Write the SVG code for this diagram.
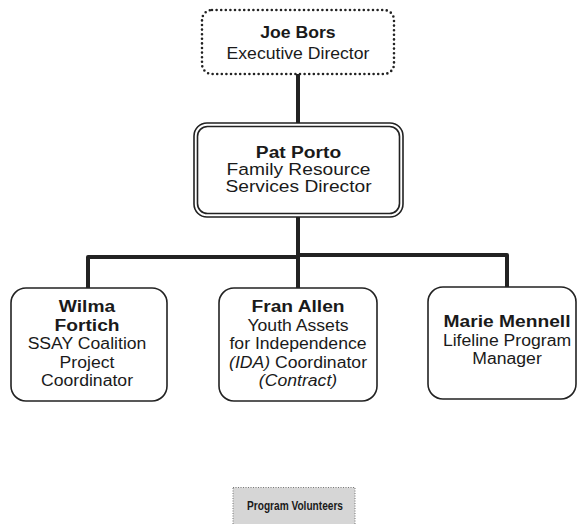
<svg xmlns="http://www.w3.org/2000/svg" width="577" height="524" viewBox="0 0 577 524">
  <style>
    text { font-family: "Liberation Sans", Arial, sans-serif; fill: #1a1a1a; text-anchor: middle; }
    .b { font-weight: bold; }
    .i { font-style: italic; }
    .box { fill: #ffffff; stroke: #222222; stroke-width: 1.6; }
    .wire { fill: none; stroke: #222222; stroke-width: 4; stroke-linejoin: round; }
  </style>
  <rect width="577" height="524" fill="#ffffff"/>

  <!-- reporting lines -->
  <g id="connectors">
    <path class="wire" d="M298 74 V123"/>
    <path class="wire" d="M298 217 V295"/>
    <path class="wire" d="M88 295 V257 H298"/>
    <path class="wire" d="M298 255 H507 V293"/>
  </g>

  <g id="joe-bors">
    <rect x="202" y="10" width="192" height="64" rx="10" fill="#ffffff" stroke="#222222" stroke-width="2.6" stroke-dasharray="0 4.6" stroke-linecap="round"/>
    <g transform="translate(298 0) scale(1.13 1)">
      <text class="b" x="0" y="38" font-size="15.6">Joe Bors</text>
      <text x="0" y="59" font-size="15.6">Executive Director</text>
    </g>
  </g>

  <g id="pat-porto">
    <rect class="box" x="194" y="123" width="209" height="94" rx="13"/>
    <rect class="box" x="197.5" y="126.5" width="202" height="87" rx="10"/>
    <g transform="translate(298.5 0) scale(1.13 1)">
      <text class="b" x="0" y="158" font-size="17">Pat Porto</text>
      <text x="0" y="175" font-size="17">Family Resource</text>
      <text x="0" y="192" font-size="17">Services Director</text>
    </g>
  </g>

  <g id="wilma-fortich">
    <rect class="box" x="11" y="288" width="156" height="113" rx="15"/>
    <g transform="translate(87 0) scale(1.13 1)">
      <text class="b" x="0" y="312" font-size="17">Wilma</text>
      <text class="b" x="0" y="331" font-size="17">Fortich</text>
      <text x="0" y="349" font-size="15.6">SSAY Coalition</text>
      <text x="0" y="368" font-size="15.6">Project</text>
      <text x="0" y="386" font-size="15.6">Coordinator</text>
    </g>
  </g>

  <g id="fran-allen">
    <rect class="box" x="219" y="288" width="158" height="113" rx="15"/>
    <g transform="translate(298 0) scale(1.13 1)">
      <text class="b" x="0" y="312" font-size="17">Fran Allen</text>
      <text x="0" y="331" font-size="15.6">Youth Assets</text>
      <text x="0" y="349" font-size="15.6">for Independence</text>
      <text x="0" y="368" font-size="15.6"><tspan class="i">(IDA)</tspan> Coordinator</text>
      <text class="i" x="0" y="386" font-size="15.6">(Contract)</text>
    </g>
  </g>

  <g id="marie-mennell">
    <rect class="box" x="428" y="287" width="148" height="112" rx="15"/>
    <g transform="translate(507 0) scale(1.13 1)">
      <text class="b" x="0" y="327" font-size="17">Marie Mennell</text>
      <text x="0" y="346" font-size="15.6">Lifeline Program</text>
      <text x="0" y="364" font-size="15.6">Manager</text>
    </g>
  </g>

  <g id="program-volunteers">
    <rect x="233" y="487.5" width="122" height="40" fill="#d6d6d6" stroke="#777777" stroke-width="1" stroke-dasharray="1 1.5"/>
    <g transform="translate(295 0) scale(0.75 1)">
      <text class="b" x="0" y="510.5" font-size="13.5">Program Volunteers</text>
    </g>
  </g>
</svg>
